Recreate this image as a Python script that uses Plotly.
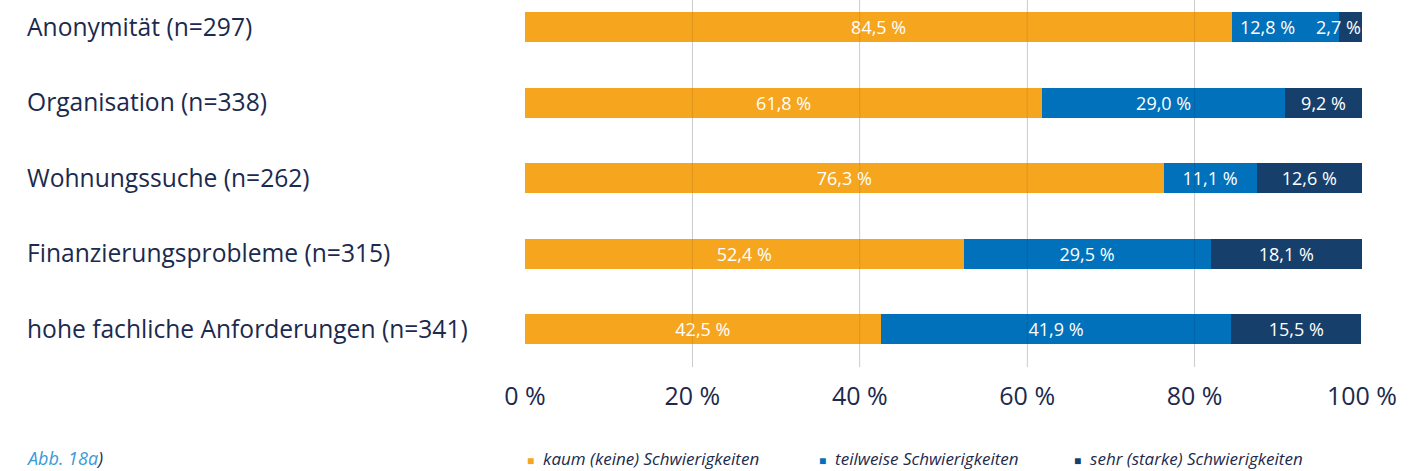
import plotly.graph_objects as go

categories = [
    "Anonymität (n=297)",
    "Organisation (n=338)",
    "Wohnungssuche (n=262)",
    "Finanzierungsprobleme (n=315)",
    "hohe fachliche Anforderungen (n=341)",
]
kaum = [84.5, 61.8, 76.3, 52.4, 42.5]
teilweise = [12.8, 29.0, 11.1, 29.5, 41.9]
sehr = [2.7, 9.2, 12.6, 18.1, 15.5]
series_names = ["kaum (keine) Schwierigkeiten", "teilweise Schwierigkeiten", "sehr (starke) Schwierigkeiten"]
colors = ["#F6A51E", "#0071BA", "#173F6C"]
tick_vals = [0, 20, 40, 60, 80, 100]
tick_text = ["0 %", "20 %", "40 %", "60 %", "80 %", "100 %"]

W, H = 1411, 471
L, R, T, B = 525, 49, 0, 104
pw = W - L - R
ph = H - T - B

font = "Open Sans, Lato, sans-serif"
navy = "#1B2A4E"

def fmt(v):
    return f"{v:.1f}".replace(".", ",") + " %"

narrow = [v < 5 for v in sehr]

fig = go.Figure()
for k, (name, vals, col) in enumerate(zip(series_names, [kaum, teilweise, sehr], colors)):
    texts = [fmt(v) for v in vals]
    if k >= 1:
        texts = ["" if n else t for n, t in zip(narrow, texts)]
    fig.add_trace(go.Bar(
        y=categories, x=vals, orientation="h", name=name,
        marker=dict(color=col, line=dict(width=0)),
        text=texts, textposition="inside", insidetextanchor="middle",
        textangle=0, constraintext="none",
        textfont=dict(color="white", size=18, family=font),
        width=0.4, showlegend=False, hoverinfo="skip",
    ))

# rows with a very narrow last segment: labels placed at segment edges
for i, n in enumerate(narrow):
    if n:
        total = kaum[i] + teilweise[i] + sehr[i]
        fig.add_annotation(x=kaum[i], y=categories[i], xref="x", yref="y",
                           text=fmt(teilweise[i]), showarrow=False, xanchor="left", xshift=6,
                           font=dict(color="white", size=18, family=font))
        fig.add_annotation(x=total, y=categories[i], xref="x", yref="y",
                           text=fmt(sehr[i]), showarrow=False, xanchor="right", xshift=1,
                           font=dict(color="white", size=18, family=font))

# category labels, left aligned
for c in categories:
    fig.add_annotation(x=(25 - L) / pw, y=c, xref="paper", yref="y", text=c,
                       showarrow=False, xanchor="left", yshift=1,
                       font=dict(size=24.6, color=navy, family=font))

# faint grid lines over the bars
for tv in tick_vals[1:-1]:
    fig.add_shape(type="line", x0=tv, x1=tv, y0=0, y1=1, xref="x", yref="paper",
                  line=dict(color="rgba(0,0,0,0.10)", width=1), layer="above")

# legend built as text
leg_y = (H - 458 - B) / ph
leg_x = [525, 817, 1072]
for name, col, px in zip(series_names, colors, leg_x):
    fig.add_annotation(x=(px - L) / pw, y=leg_y, xref="paper", yref="paper",
                       text=f"<span style='color:{col};font-size:12px'>■</span>  <i>{name}</i>",
                       showarrow=False, xanchor="left", yanchor="middle",
                       font=dict(size=17, color=navy, family=font))

fig.add_annotation(x=(24 - L) / pw, y=leg_y, xref="paper", yref="paper",
                   text="<i><span style='color:#3A9AD6'>Abb. 18a</span>)</i>",
                   showarrow=False, xanchor="left", yanchor="middle",
                   font=dict(size=18, color=navy, family=font))

fig.update_layout(
    width=W, height=H,
    margin=dict(l=L, r=R, t=T, b=B),
    barmode="stack",
    plot_bgcolor="white", paper_bgcolor="white",
    xaxis=dict(range=[0, 100], tickvals=tick_vals, ticktext=tick_text,
               showgrid=True, gridcolor="#E2E2E2", gridwidth=1,
               zeroline=False, showline=False, ticks="",
               ticklabelstandoff=12,
               tickfont=dict(size=25, color=navy, family=font)),
    yaxis=dict(type="category", categoryorder="array", categoryarray=categories,
               range=[4.5, -0.36], showticklabels=False, showgrid=False,
               zeroline=False, showline=False, ticks=""),
)

fig.write_html("out.html", config={"displayModeBar": False},
               post_script="document.body.style.margin='0';")
